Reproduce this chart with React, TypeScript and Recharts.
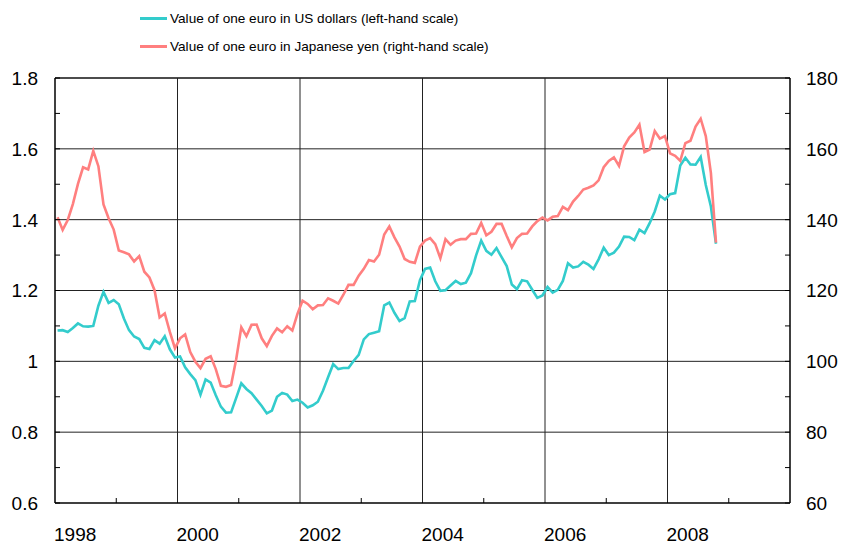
import React from 'react';
import { LineChart, Line, XAxis, YAxis, ReferenceLine } from 'recharts';

// Monthly averages, Jan 1998 – Oct 2008
const usdPerEuro = [
  1.087, 1.088, 1.083, 1.094, 1.107, 1.099, 1.098, 1.100, 1.157, 1.196, 1.165, 1.173,
  1.161, 1.121, 1.088, 1.070, 1.063, 1.038, 1.035, 1.060, 1.050, 1.071, 1.034, 1.011,
  1.014, 0.983, 0.964, 0.947, 0.906, 0.949, 0.940, 0.904, 0.872, 0.855, 0.856, 0.897,
  0.938, 0.922, 0.910, 0.892, 0.874, 0.853, 0.861, 0.900, 0.911, 0.906, 0.888, 0.892,
  0.883, 0.870, 0.876, 0.886, 0.917, 0.955, 0.992, 0.978, 0.981, 0.981, 1.001, 1.018,
  1.062, 1.077, 1.081, 1.085, 1.158, 1.166, 1.137, 1.114, 1.122, 1.169, 1.170, 1.229,
  1.261, 1.265, 1.226, 1.199, 1.201, 1.214, 1.227, 1.218, 1.222, 1.249, 1.299, 1.341,
  1.312, 1.301, 1.320, 1.294, 1.269, 1.217, 1.204, 1.229, 1.226, 1.202, 1.179, 1.186,
  1.210, 1.194, 1.202, 1.227, 1.277, 1.265, 1.268, 1.281, 1.273, 1.261, 1.288, 1.321,
  1.300, 1.307, 1.324, 1.352, 1.351, 1.342, 1.372, 1.362, 1.390, 1.423, 1.468, 1.457,
  1.472, 1.475, 1.553, 1.575, 1.556, 1.555, 1.577, 1.498, 1.437, 1.332,
];

const yenPerEuro = [
  140.7, 137.1, 139.9, 144.4, 150.1, 154.8, 154.2, 159.4, 155.1, 144.3, 140.4, 137.2,
  131.3, 130.8, 130.2, 128.2, 129.7, 125.3, 123.7, 120.1, 112.4, 113.5, 108.3, 103.7,
  106.5, 107.6, 102.6, 99.9, 98.1, 100.7, 101.4, 97.8, 93.1, 92.8, 93.3, 100.6,
  109.6, 107.1, 110.3, 110.4, 106.5, 104.3, 107.2, 109.3, 108.2, 109.9, 108.7, 113.4,
  117.1, 116.2, 114.7, 115.8, 115.9, 117.8, 117.1, 116.3, 118.8, 121.6, 121.6, 124.2,
  126.1, 128.6, 128.2, 130.1, 135.8, 138.1, 135.0, 132.4, 128.9, 128.1, 127.8, 132.4,
  134.1, 134.8, 133.1, 129.1, 134.5, 132.9, 134.1, 134.5, 134.5, 136.0, 136.1, 139.1,
  135.6, 136.6, 138.8, 138.8, 135.4, 132.2, 134.8, 136.0, 136.1, 138.1, 139.6, 140.6,
  139.8, 140.8, 141.0, 143.6, 142.7, 145.1, 146.7, 148.5, 149.0, 149.7, 151.1, 154.8,
  156.6, 157.6, 155.2, 160.7, 163.2, 164.6, 166.8, 159.1, 159.8, 165.0, 162.9, 163.6,
  158.7, 158.0, 156.6, 161.6, 162.3, 166.3, 168.5, 163.6, 153.2, 133.5,
];

const startYear = 1998;
const xTicks = [1998, 1999, 2000, 2001, 2002, 2003, 2004, 2005, 2006, 2007, 2008, 2009];
const gridYears = [2000, 2002, 2004, 2006, 2008];
const leftTicks = [0.6, 0.7, 0.8, 0.9, 1, 1.1, 1.2, 1.3, 1.4, 1.5, 1.6, 1.7, 1.8];
const rightTicks = [60, 70, 80, 90, 100, 110, 120, 130, 140, 150, 160, 170, 180];
const gridValues = [0.8, 1, 1.2, 1.4, 1.6];

const legendItems = [
  { label: 'Value of one euro in US dollars (left-hand scale)', color: '#33CCCC' },
  { label: 'Value of one euro in Japanese yen (right-hand scale)', color: '#FF7F7F' },
];

const data = usdPerEuro.map((usd, i) => ({
  t: startYear + (i + 0.5) / 12,
  usd,
  yen: yenPerEuro[i],
}));

const FONT = '"Liberation Sans", Arial, sans-serif';

const XTick = (props: any) => {
  const { x, y, payload } = props;
  const v = payload.value;
  if (v % 2 === 0) {
    return (
      <text x={x - 1} y={y + 38} fontSize={19} fontFamily={FONT} fill="#000" textAnchor="start">
        {v}
      </text>
    );
  }
  return <line x1={x} x2={x} y1={y} y2={y - 5} stroke="#000" strokeWidth={1} />;
};

const LeftTick = (props: any) => {
  const { x, y, payload } = props;
  const v = payload.value;
  const major = Math.round(v * 10) % 2 === 0;
  return (
    <g>
      <line x1={x} x2={x + 5} y1={y} y2={y} stroke="#000" strokeWidth={1} />
      {major && (
        <text x={x - 17} y={y} dy="0.36em" fontSize={19} fontFamily={FONT} fill="#000" textAnchor="end">
          {String(Math.round(v * 10) / 10)}
        </text>
      )}
    </g>
  );
};

const RightTick = (props: any) => {
  const { x, y, payload } = props;
  const v = payload.value;
  const major = v % 20 === 0;
  return (
    <g>
      <line x1={x} x2={x - 5} y1={y} y2={y} stroke="#000" strokeWidth={1} />
      {major && (
        <text x={x + 16} y={y} dy="0.36em" fontSize={19} fontFamily={FONT} fill="#000" textAnchor="start">
          {v}
        </text>
      )}
    </g>
  );
};

export default function App() {
  return (
    <div style={{ position: 'absolute', left: 0, top: 0, width: 842, height: 544, background: '#fff' }}>
      <LineChart width={842} height={544} data={data} margin={{ top: 78, right: 0, bottom: 0, left: 0 }}>
        <XAxis
          dataKey="t"
          type="number"
          domain={[1998, 2010]}
          ticks={xTicks}
          interval={0}
          height={41}
          tickSize={0}
          tickMargin={0}
          tickLine={false}
          axisLine={{ stroke: '#000', strokeWidth: 1.5 }}
          tick={<XTick />}
          allowDataOverflow
        />
        <YAxis
          yAxisId="left"
          type="number"
          domain={[0.6, 1.8]}
          ticks={leftTicks}
          interval={0}
          width={55}
          tickSize={0}
          tickMargin={0}
          tickLine={false}
          axisLine={{ stroke: '#000', strokeWidth: 1.5 }}
          tick={<LeftTick />}
          allowDataOverflow
        />
        <YAxis
          yAxisId="right"
          orientation="right"
          type="number"
          domain={[60, 180]}
          ticks={rightTicks}
          interval={0}
          width={52}
          tickSize={0}
          tickMargin={0}
          tickLine={false}
          axisLine={{ stroke: '#000', strokeWidth: 1.5 }}
          tick={<RightTick />}
          allowDataOverflow
        />
        {gridValues.map((v) => (
          <ReferenceLine key={'h' + v} yAxisId="left" y={v} stroke="#222" strokeWidth={1} />
        ))}
        <ReferenceLine yAxisId="left" y={1.8} stroke="#111" strokeWidth={1.5} />
        {gridYears.map((yr) => (
          <ReferenceLine key={'v' + yr} yAxisId="left" x={yr} stroke="#222" strokeWidth={1} />
        ))}
        <Line
          yAxisId="left"
          dataKey="usd"
          stroke={legendItems[0].color}
          strokeWidth={2.6}
          dot={false}
          isAnimationActive={false}
          type="linear"
        />
        <Line
          yAxisId="right"
          dataKey="yen"
          stroke={legendItems[1].color}
          strokeWidth={2.6}
          dot={false}
          isAnimationActive={false}
          type="linear"
        />
      </LineChart>
      {legendItems.map((item, i) => (
        <div
          key={item.label}
          style={{
            position: 'absolute',
            left: 140,
            top: 18 + i * 28 - 9,
            height: 18,
            display: 'flex',
            alignItems: 'center',
            fontFamily: FONT,
            fontSize: 13.6,
            color: '#000',
            whiteSpace: 'nowrap',
          }}
        >
          <div style={{ width: 27, height: 3, background: item.color, marginRight: 3 }} />
          <span>{item.label}</span>
        </div>
      ))}
    </div>
  );
}
